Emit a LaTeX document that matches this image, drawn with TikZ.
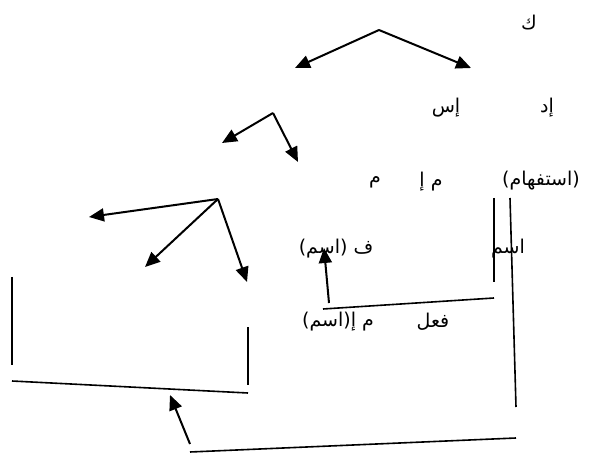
\documentclass[tikz,border=0pt]{standalone}
\usepackage{fontspec}
\usetikzlibrary{arrows.meta}
\TeXXeTstate=1
\newfontfamily\arabicfont[Script=Arabic]{DejaVu Sans}
\tikzset{
  word/.style={font=\arabicfont\fontsize{19}{22}\selectfont, inner sep=0pt},
  link/.style={-{Triangle[length=15pt,width=13pt]}, line width=2pt},
  bar/.style={line width=1.6pt},
}
\newcommand{\RtoL}[1]{\beginR #1\endR}

\begin{document}
\begin{tikzpicture}[x=1pt,y=-1pt]
  \useasboundingbox (0,0) rectangle (592,457);
  % words
  \node[word] (kaf) at (529,23) {\RtoL{ك}};
  \node[word] (is) at (446,108) {\RtoL{إس}};
  \node[word] (id) at (547,108) {\RtoL{إد}};
  \node[word] (istifham) at (541,181) {\RtoL{(استفهام)}};
  \node[word] (mi) at (431,182) {\RtoL{م إ}};
  \node[word] (mim) at (375,182) {\RtoL{م}};
  \node[word] (ism) at (508,249) {\RtoL{اسم}};
  \node[word] (fism) at (336,249) {\RtoL{ف (اسم)}};
  \node[word] (fiel) at (433,322) {\RtoL{فعل}};
  \node[word] (miism) at (338,322) {\RtoL{م إ(اسم)}};
  % branch points
  \coordinate (t0) at (379,30);
  \coordinate (t0a) at (295,68);
  \coordinate (t0b) at (471,68);
  \coordinate (t1) at (273,113);
  \coordinate (t1a) at (222,143);
  \coordinate (t1b) at (298,162);
  \coordinate (t2) at (218,199);
  \coordinate (t2a) at (89,217);
  \coordinate (t2b) at (145,267);
  \coordinate (t2c) at (247,282);
  \draw[link] (t0) -- (t0a);
  \draw[link] (t0) -- (t0b);
  \draw[link] (t1) -- (t1a);
  \draw[link] (t1) -- (t1b);
  \draw[link] (t2) -- (t2a);
  \draw[link] (t2) -- (t2b);
  \draw[link] (t2) -- (t2c);
  % brackets
  \coordinate (v1a) at (494,198);
  \coordinate (v1b) at (494,282);
  \coordinate (v2a) at (510,198);
  \coordinate (v2b) at (516,407);
  \coordinate (s1a) at (494,298);
  \coordinate (s1b) at (323,309);
  \coordinate (bxa) at (12,277);
  \coordinate (bxb) at (12,365);
  \coordinate (bxc) at (248,327);
  \coordinate (bxd) at (248,385);
  \coordinate (bxe) at (12,381);
  \coordinate (bxf) at (248,393);
  \coordinate (b0a) at (190,452);
  \coordinate (b0b) at (516,438);
  \draw[bar] (v1a) -- (v1b);
  \draw[bar] (v2a) -- (v2b);
  \draw[bar] (s1a) -- (s1b);
  \draw[bar] (bxa) -- (bxb);
  \draw[bar] (bxc) -- (bxd);
  \draw[bar] (bxe) -- (bxf);
  \draw[bar] (b0a) -- (b0b);
  % back arrows
  \coordinate (u1a) at (329,303);
  \coordinate (u1b) at (324,248);
  \coordinate (u2a) at (190,444);
  \coordinate (u2b) at (170,395);
  \draw[link] (u1a) -- (u1b);
  \draw[link] (u2a) -- (u2b);
\end{tikzpicture}
\end{document}
